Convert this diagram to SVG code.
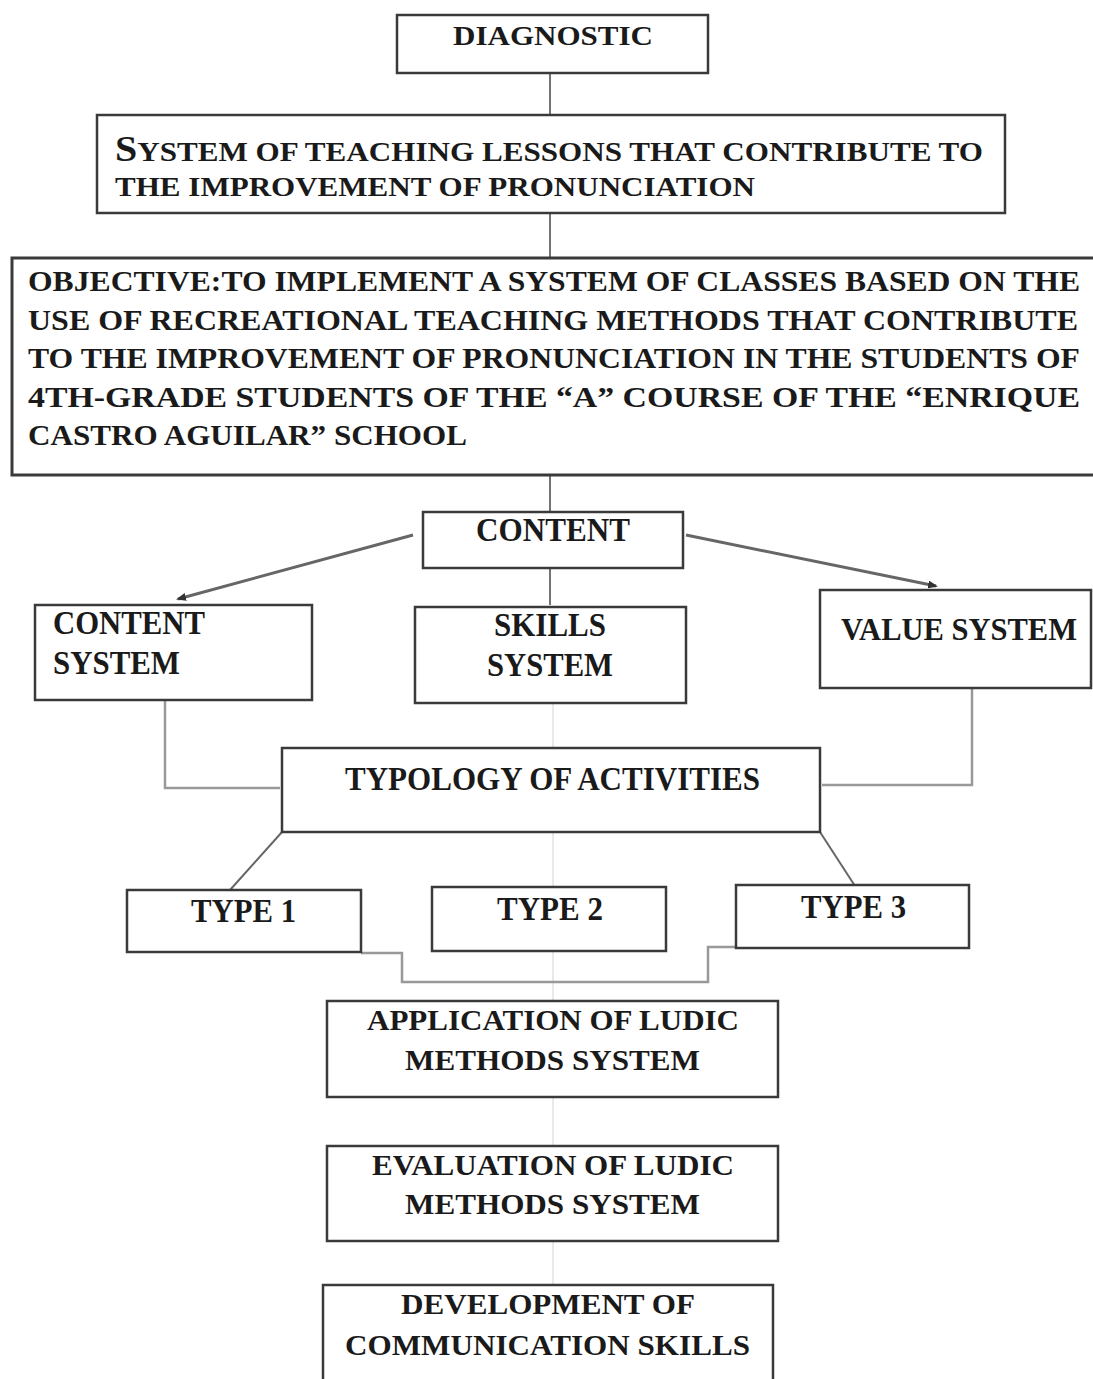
<svg xmlns="http://www.w3.org/2000/svg" width="1093" height="1379" viewBox="0 0 1093 1379">
<style>
.box{fill:#fff;stroke:#3a3a3a;stroke-width:2.5}
.t{font-family:"Liberation Serif","Times New Roman",serif;font-weight:bold;fill:#1a1a1a}
.m{font-size:34px}
.c{stroke:#444;stroke-width:1.5;fill:none}
.a{stroke:#666;stroke-width:3;fill:none}
.g{stroke:#999;stroke-width:2.5;fill:none}
.f{stroke:#e2e2e2;stroke-width:1.5;fill:none}
</style>
<defs>
<marker id="ah" markerWidth="10" markerHeight="8" refX="8" refY="4" orient="auto" markerUnits="userSpaceOnUse">
<path d="M0,0 L10,4 L0,8 z" fill="#333"/>
</marker>
</defs>
<rect width="1093" height="1379" fill="#fff"/>
<g id="connectors">
<line class="f" x1="553" y1="700" x2="553" y2="1285"/>
<line class="c" x1="550" y1="73" x2="550" y2="115"/>
<line class="c" x1="550" y1="213" x2="550" y2="258"/>
<line class="c" x1="550" y1="475" x2="550" y2="512"/>
<line class="c" x1="550" y1="568" x2="550" y2="605"/>
<line class="a" x1="413" y1="535" x2="178" y2="599" marker-end="url(#ah)"/>
<line class="a" x1="686" y1="535" x2="936" y2="586" marker-end="url(#ah)"/>
<polyline class="g" points="165,700 165,788 280,788"/>
<polyline class="g" points="972,688 972,785 822,785"/>
<line class="a" x1="282" y1="832" x2="230" y2="890" style="stroke-width:2"/>
<line class="a" x1="820" y1="832" x2="855" y2="886" style="stroke-width:2"/>
<polyline class="g" points="361,953 402,953 402,982 708,982 708,947 736,947"/>
</g>
<g id="diagnostic">
<rect class="box" x="397" y="15" width="311" height="58"/>
<text class="t" x="453" y="45" font-size="28" textLength="200" lengthAdjust="spacingAndGlyphs">DIAGNOSTIC</text>
</g>
<g id="system-lessons">
<rect class="box" x="97" y="115" width="908" height="98"/>
<text class="t" x="115" y="161" font-size="28" textLength="868" lengthAdjust="spacingAndGlyphs"><tspan font-size="36">S</tspan>YSTEM OF TEACHING LESSONS THAT CONTRIBUTE TO</text>
<text class="t" x="115" y="196" font-size="28" textLength="640" lengthAdjust="spacingAndGlyphs">THE IMPROVEMENT OF PRONUNCIATION</text>
</g>
<g id="objective">
<rect class="box" x="12" y="258" width="1095" height="217" style="stroke-width:3"/>
<text class="t" x="28" y="291" font-size="29" textLength="1052" lengthAdjust="spacingAndGlyphs">OBJECTIVE:TO IMPLEMENT A SYSTEM OF CLASSES BASED ON THE</text>
<text class="t" x="28" y="330" font-size="29" textLength="1050" lengthAdjust="spacingAndGlyphs">USE OF RECREATIONAL TEACHING METHODS THAT CONTRIBUTE</text>
<text class="t" x="28" y="368" font-size="29" textLength="1052" lengthAdjust="spacingAndGlyphs">TO THE IMPROVEMENT OF PRONUNCIATION IN THE STUDENTS OF</text>
<text class="t" x="28" y="407" font-size="29" textLength="1052" lengthAdjust="spacingAndGlyphs">4TH-GRADE  STUDENTS  OF  THE  “A”  COURSE  OF  THE  “ENRIQUE</text>
<text class="t" x="28" y="445" font-size="29" textLength="439" lengthAdjust="spacingAndGlyphs">CASTRO AGUILAR” SCHOOL</text>
</g>
<g id="content">
<rect class="box" x="423" y="512" width="260" height="56"/>
<text class="t m" x="476" y="541" textLength="154" lengthAdjust="spacingAndGlyphs">CONTENT</text>
</g>
<g id="content-system">
<rect class="box" x="35" y="605" width="277" height="95"/>
<text class="t m" x="53" y="634" textLength="152" lengthAdjust="spacingAndGlyphs">CONTENT</text>
<text class="t m" x="53" y="674" textLength="127" lengthAdjust="spacingAndGlyphs">SYSTEM</text>
</g>
<g id="skills-system">
<rect class="box" x="415" y="607" width="271" height="96"/>
<text class="t m" x="494" y="636" textLength="112" lengthAdjust="spacingAndGlyphs">SKILLS</text>
<text class="t m" x="487" y="676" textLength="126" lengthAdjust="spacingAndGlyphs">SYSTEM</text>
</g>
<g id="value-system">
<rect class="box" x="820" y="590" width="271" height="98"/>
<text class="t" x="841" y="640" font-size="31" textLength="236" lengthAdjust="spacingAndGlyphs">VALUE SYSTEM</text>
</g>
<g id="typology">
<rect class="box" x="282" y="748" width="538" height="84"/>
<text class="t m" x="345" y="790" textLength="415" lengthAdjust="spacingAndGlyphs">TYPOLOGY OF ACTIVITIES</text>
</g>
<g id="type1">
<rect class="box" x="127" y="890" width="234" height="62"/>
<text class="t m" x="191" y="922" textLength="105" lengthAdjust="spacingAndGlyphs">TYPE 1</text>
</g>
<g id="type2">
<rect class="box" x="432" y="887" width="234" height="64"/>
<text class="t m" x="497" y="920" textLength="106" lengthAdjust="spacingAndGlyphs">TYPE 2</text>
</g>
<g id="type3">
<rect class="box" x="736" y="885" width="233" height="63"/>
<text class="t m" x="801" y="918" textLength="105" lengthAdjust="spacingAndGlyphs">TYPE 3</text>
</g>
<g id="application">
<rect class="box" x="327" y="1001" width="451" height="96"/>
<text class="t" x="367" y="1030" font-size="30" textLength="372" lengthAdjust="spacingAndGlyphs">APPLICATION OF LUDIC</text>
<text class="t" x="405" y="1070" font-size="30" textLength="295" lengthAdjust="spacingAndGlyphs">METHODS SYSTEM</text>
</g>
<g id="evaluation">
<rect class="box" x="327" y="1146" width="451" height="95"/>
<text class="t" x="372" y="1175" font-size="30" textLength="362" lengthAdjust="spacingAndGlyphs">EVALUATION OF LUDIC</text>
<text class="t" x="405" y="1214" font-size="30" textLength="295" lengthAdjust="spacingAndGlyphs">METHODS SYSTEM</text>
</g>
<g id="development">
<rect class="box" x="323" y="1285" width="450" height="110"/>
<text class="t" x="401" y="1314" font-size="30" textLength="294" lengthAdjust="spacingAndGlyphs">DEVELOPMENT OF</text>
<text class="t" x="345" y="1355" font-size="30" textLength="405" lengthAdjust="spacingAndGlyphs">COMMUNICATION SKILLS</text>
</g>
</svg>
